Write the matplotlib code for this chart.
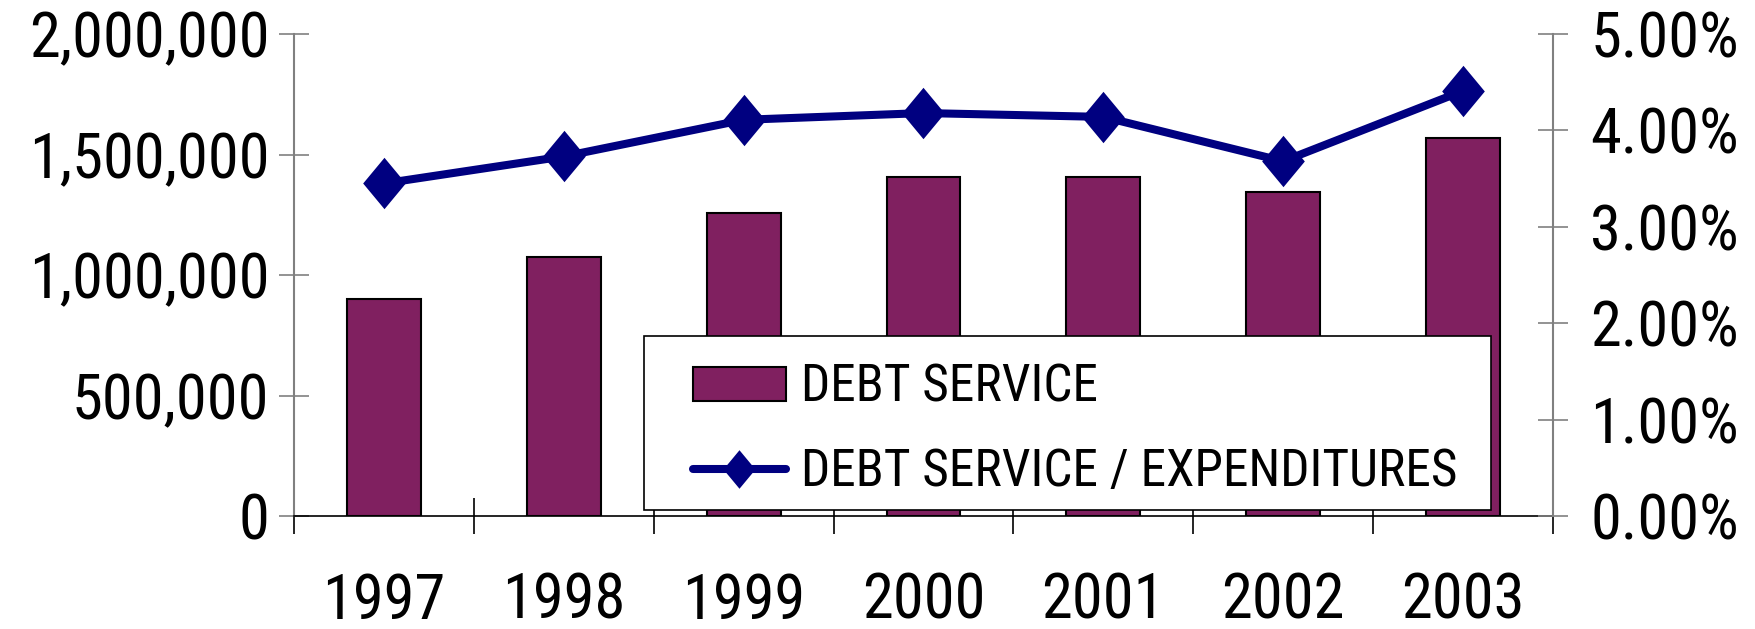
import matplotlib
matplotlib.use("Agg")
import matplotlib.pyplot as plt
from matplotlib import font_manager
from matplotlib.patches import Rectangle
from matplotlib.path import Path
from matplotlib.ticker import FixedLocator, FuncFormatter

# 数据
years = ["1997", "1998", "1999", "2000", "2001", "2002", "2003"]
debt_service = [900000, 1076000, 1256000, 1408000, 1408000, 1343000, 1570000]
debt_ratio_pct = [3.45, 3.73, 4.11, 4.18, 4.14, 3.68, 4.41]

BAR_COLOR = "#802060"
LINE_COLOR = "#000080"
AXIS_GRAY = "#808080"

# 优先使用窄体字
installed = {f.name for f in font_manager.fontManager.ttflist}
for name in ["Liberation Sans Narrow", "Arial Narrow", "Roboto Condensed",
             "Archivo Narrow", "Liberation Sans"]:
    if name in installed:
        FONT = name
        break
else:
    FONT = "DejaVu Sans"
plt.rcParams["font.family"] = [FONT, "DejaVu Sans"]

W, H, DPI = 1756, 629, 100
fig = plt.figure(figsize=(W / DPI, H / DPI), dpi=DPI)
ax = fig.add_axes([294 / W, 1 - 516 / H, (1553 - 294) / W, (516 - 34) / H])
ax2 = ax.twinx()

x = list(range(len(years)))
bars = ax.bar(x, debt_service, width=0.41, color=BAR_COLOR, edgecolor="black",
              linewidth=1.5, zorder=2, label="DEBT SERVICE")
ax.set_xlim(-0.5, len(years) - 0.5)
ax.set_ylim(0, 2000000)
ax.set_yticks([0, 500000, 1000000, 1500000, 2000000])
ax.yaxis.set_major_formatter(FuncFormatter(lambda v, p: f"{int(v):,}"))

# 刻度在类别之间，标签放在类别中心
ax.xaxis.set_major_locator(FixedLocator([i - 0.5 for i in range(len(years) + 1)]))
ax.xaxis.set_minor_locator(FixedLocator(x))
ax.set_xticklabels([], minor=False)
ax.set_xticklabels(years, minor=True)
ax.tick_params(axis="x", which="major", direction="inout", length=26, width=1.2,
               color="black")
ax.tick_params(axis="x", which="minor", length=0, pad=40, labelsize=45)
ax.tick_params(axis="y", direction="inout", length=21.6, width=1.2, color=AXIS_GRAY,
               pad=7, labelsize=45)

# 菱形标记（略高于宽）
diamond = Path([(0, 1), (0.83, 0), (0, -1), (-0.83, 0), (0, 1)],
               [Path.MOVETO, Path.LINETO, Path.LINETO, Path.LINETO, Path.CLOSEPOLY])
line, = ax2.plot(x, debt_ratio_pct, color=LINE_COLOR, linewidth=5.8, marker=diamond,
                 markersize=37, markeredgewidth=0, solid_capstyle="round",
                 label="DEBT SERVICE / EXPENDITURES", zorder=3)
ax2.set_ylim(0, 5)
ax2.set_yticks([0, 1, 2, 3, 4, 5])
ax2.yaxis.set_major_formatter(FuncFormatter(lambda v, p: f"{v:.2f}%"))
ax2.tick_params(axis="y", direction="inout", length=21.6, width=1.2, color=AXIS_GRAY,
                pad=16, labelsize=45)

for a in (ax, ax2):
    a.spines["top"].set_visible(False)
    a.patch.set_visible(False)
ax.spines["right"].set_visible(False)
ax2.spines["left"].set_visible(False)
ax2.spines["bottom"].set_visible(False)
ax.spines["left"].set_color(AXIS_GRAY)
ax.spines["left"].set_linewidth(1.5)
ax2.spines["right"].set_color(AXIS_GRAY)
ax2.spines["right"].set_linewidth(1.5)
ax.spines["bottom"].set_color("black")
ax.spines["bottom"].set_linewidth(1.2)

# 图例方框
frame = Rectangle((644 / W, 1 - 510 / H), (1491 - 644) / W, 174 / H,
                  transform=fig.transFigure, facecolor="white", edgecolor="black",
                  linewidth=1.2, zorder=4)
fig.add_artist(frame)
leg = fig.legend(handles=[bars, line], loc="upper left",
                 bbox_to_anchor=(693 / W, 1 - 363 / H), frameon=False,
                 fontsize=37, handlelength=1.8, handleheight=0.62,
                 handletextpad=0.3, labelspacing=0.67, borderpad=0,
                 borderaxespad=0, markerscale=0.75)
leg.set_zorder(5)

fig.savefig("out.png", dpi=DPI)
